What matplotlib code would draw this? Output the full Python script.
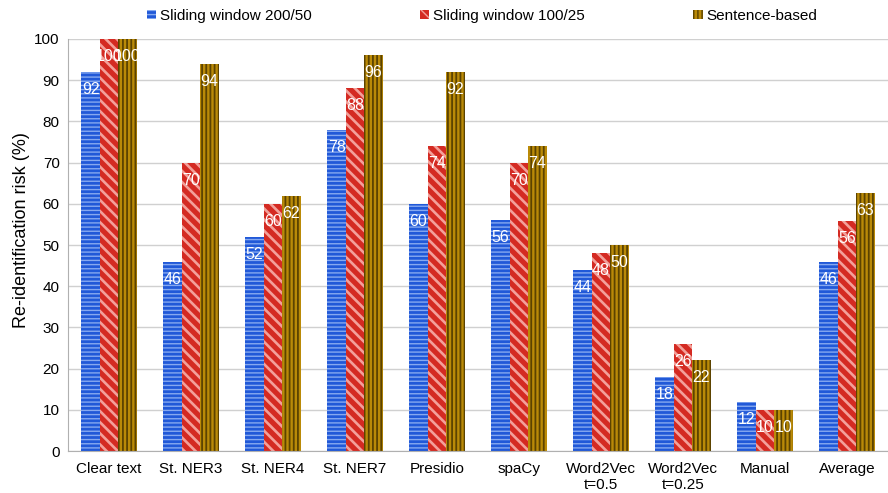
#!/usr/bin/env python3
"""Grouped bar chart of re-identification risk per anonymisation method."""

import matplotlib

matplotlib.use("Agg")
import matplotlib.pyplot as plt
import numpy as np

plt.rcParams["font.family"] = ["Liberation Sans", "DejaVu Sans"]

categories = [
    "Clear text", "St. NER3", "St. NER4", "St. NER7", "Presidio", "spaCy",
    "Word2Vec\nt=0.5", "Word2Vec\nt=0.25", "Manual", "Average",
]
window_200_50 = [92, 46, 52, 78, 60, 56, 44, 18, 12, 45.8]
window_100_25 = [100, 70, 60, 88, 74, 70, 48, 26, 10, 55.8]
sentence_based = [100, 94, 62, 96, 92, 74, 50, 22, 10, 62.6]
series_names = ["Sliding window 200/50", "Sliding window 100/25", "Sentence-based"]
y_ticks = list(range(0, 101, 10))

# face colour, hatch colour, hatch pattern, hatch line width
styles = [
    ("#2159D8", "#86A9F0", "----", 1.0),
    ("#D42A22", "#F3A09A", "\\\\\\", 1.9),
    ("#BA8A08", "#5C4300", "||||", 1.3),
]


def main() -> None:
    fig = plt.figure(figsize=(8.88, 4.93), dpi=100)
    ax = fig.add_axes([0.0766, 0.085, 0.9234, 0.836])

    x = np.arange(len(categories))
    width = 0.225
    handles = []
    for i, (values, name, (face, hatch_col, hatch, hlw)) in enumerate(
        zip([window_200_50, window_100_25, sentence_based], series_names, styles)
    ):
        pos = x + (i - 1) * width
        with plt.rc_context({"hatch.linewidth": hlw}):
            bars = ax.bar(
                pos, values, width, color=face, edgecolor=hatch_col,
                hatch=hatch, linewidth=0, label=name, zorder=2,
            )
        handles.append(bars)
        for xp, v in zip(pos, values):
            ax.annotate(
                f"{v:.0f}", (xp, v), xytext=(0, -10), textcoords="offset pixels",
                ha="center", va="top", color="white", fontsize=11.5, zorder=3,
            )

    ax.set_xlim(-0.5, len(categories) - 0.5)
    ax.set_ylim(0, 100)
    ax.set_yticks(y_ticks)
    ax.set_xticks(x)
    ax.set_xticklabels(categories, fontsize=11)
    ax.tick_params(axis="y", labelsize=11, length=0, pad=6)
    ax.tick_params(axis="x", length=0, pad=8)
    ax.set_ylabel("Re-identification risk (%)", fontsize=13)
    ax.yaxis.set_label_coords(-0.046, 0.536)
    ax.grid(axis="y", color="#D0D0D0", linewidth=1.0, zorder=0)
    ax.set_axisbelow(True)
    for side in ("top", "right"):
        ax.spines[side].set_visible(False)
    for side in ("left", "bottom"):
        ax.spines[side].set_color("#B0B0B0")

    fig.legend(
        handles, series_names, loc="upper center", bbox_to_anchor=(0.543, 1.01),
        ncol=3, frameon=False, fontsize=11, handlelength=0.6, handleheight=0.6,
        handletextpad=0.25, columnspacing=7.1,
    )

    fig.savefig("out.png", dpi=100)
    plt.close(fig)


if __name__ == "__main__":
    main()
